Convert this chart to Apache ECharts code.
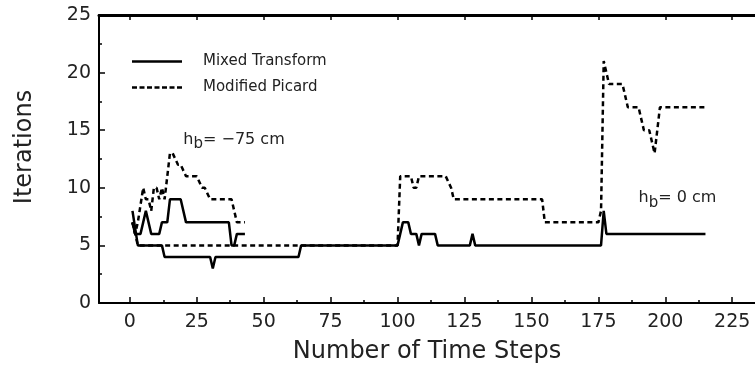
<!DOCTYPE html>
<html>
<head>
<meta charset="utf-8">
<script src="https://cdn.jsdelivr.net/npm/echarts@6/dist/echarts.min.js"></script>
<style>html,body{margin:0;padding:0;background:#fff}#c{width:755px;height:369px}</style>
</head>
<body>
<div id="c"></div>
<script>
// ---- data ----
const xTicks = [0, 25, 50, 75, 100, 125, 150, 175, 200, 225];
const xMinorTicks = [12.5, 37.5, 62.5, 87.5, 112.5, 137.5, 162.5, 187.5, 212.5];
const seriesNames = ['Mixed Transform', 'Modified Picard'];

// h_b = -75 cm run
const mixed75 = [[1,7],[2,6],[4,6],[5,7],[6,8],[7,7],[8,6],[11,6],[12,7],[14,7],[15,9],[19,9],[21,7],[37,7],[38,5],[39,5],[40,6],[43,6]];
const picard75 = [[1,7],[2,6],[3,7],[5,10],[6,9],[7,9],[8,8],[9,10],[10,10],[11,9],[12,10],[13,9],[15,13],[16,13],[18,12],[19,12],[21,11],[25,11],[27,10],[28,10],[30,9],[38,9],[39,8],[40,7],[43,7]];

// h_b = 0 cm run
const mixed0 = [[1,8],[3,5],[12,5],[13,4],[30,4],[31,3],[32,4],[63,4],[64,5],[100,5],[101,6],[102,7],[104,7],[105,6],[107,6],[108,5],[109,6],[114,6],[115,5],[127,5],[128,6],[129,5],[176,5],[177,8],[178,6],[215,6]];
const picard0 = [[1,7],[2,6],[3,5],[100,5],[101,11],[105,11],[106,10],[107,10],[108,11],[118,11],[120,10],[121,9],[154,9],[155,7],[175,7],[176,8],[177,21],[178,20],[179,19],[184,19],[185,18],[186,17],[190,17],[192,15],[194,15],[195,14],[196,13],[197,15],[198,17],[215,17]];

const annotations = [
  { coord: [20, 14.2], text: '= \u221275 cm' },
  { coord: [190, 9.1], text: '= 0 cm' }
];

// ---- chart ----
const FONT = 'DejaVu Sans';
const INK = '#222';
const XMIN = -11.5, XMAX = 233.5;

const chart = echarts.init(document.getElementById('c'), null, { renderer: 'canvas' });

const solid = { color: '#000', width: 2.5, type: 'solid' };
const dashed = { color: '#000', width: 2.5, type: [5, 3.5] };

const solidIcon = 'path://M0,0h50v2.5h-50z';
const dashedIcon = 'path://M0,0h5v2.5h-5z M7.5,0h5v2.5h-5z M15,0h5v2.5h-5z M22.5,0h5v2.5h-5z M30,0h5v2.5h-5z M37.5,0h5v2.5h-5z M45,0h5v2.5h-5z';

function lineSeries(name, data, style, extra) {
  return Object.assign({
    type: 'line', name: name, data: data, xAxisIndex: 0, yAxisIndex: 0,
    symbol: 'none', showSymbol: false, lineStyle: style, itemStyle: { color: '#000' },
    z: 3, silent: true
  }, extra || {});
}

const richLabel = {
  h: { fontSize: 16, fontFamily: FONT, color: INK },
  b: { fontSize: 15, fontFamily: FONT, color: INK, padding: [10, 0, 0, 0] },
  t: { fontSize: 16, fontFamily: FONT, color: INK }
};

const option = {
  animation: false,
  backgroundColor: '#fff',
  textStyle: { fontFamily: FONT, color: INK },
  grid: { left: 99, right: 0, top: 15, bottom: 64 },
  legend: {
    orient: 'vertical', left: 127, top: 49,
    itemWidth: 50, itemHeight: 3, itemGap: 11,
    data: [
      { name: seriesNames[0], icon: solidIcon },
      { name: seriesNames[1], icon: dashedIcon }
    ],
    itemStyle: { color: '#000', borderWidth: 0 },
    lineStyle: { width: 0 },
    textStyle: { fontSize: 15, fontFamily: FONT, color: INK, padding: [0, 0, 0, 16] },
    selectedMode: false
  },
  xAxis: [
    {
      type: 'value', min: XMIN, max: XMAX, position: 'bottom',
      axisLine: { show: true, onZero: false, lineStyle: { color: '#000', width: 2 } },
      axisTick: { show: true, inside: true, length: 6, customValues: xTicks, lineStyle: { color: '#000', width: 1.5 } },
      axisLabel: { customValues: xTicks, fontSize: 19, margin: 10, color: INK, fontFamily: FONT },
      splitLine: { show: false },
      name: 'Number of Time Steps', nameLocation: 'middle', nameGap: 37,
      nameTextStyle: { fontSize: 24, fontFamily: FONT, color: INK }
    },
    {
      type: 'value', min: XMIN, max: XMAX, position: 'bottom',
      axisLine: { show: false },
      axisTick: { show: true, inside: true, length: 3, customValues: xMinorTicks, lineStyle: { color: '#000', width: 1.5 } },
      axisLabel: { show: false }, splitLine: { show: false }
    },
    {
      type: 'value', min: XMIN, max: XMAX, position: 'top',
      axisLine: { show: true, onZero: false, lineStyle: { color: '#000', width: 3 } },
      axisTick: { show: true, inside: true, length: 5, customValues: xTicks, lineStyle: { color: '#000', width: 1.5 } },
      axisLabel: { show: false }, splitLine: { show: false }
    }
  ],
  yAxis: {
    type: 'value', min: 0, max: 25, interval: 5,
    axisLine: { show: true, onZero: false, lineStyle: { color: '#000', width: 2 } },
    axisTick: { show: true, inside: true, length: 6, lineStyle: { color: '#000', width: 1.5 } },
    minorTick: { show: true, splitNumber: 2, length: 3, lineStyle: { color: '#000', width: 1.5 } },
    axisLabel: { fontSize: 19, margin: 8, color: INK, fontFamily: FONT },
    splitLine: { show: false }, minorSplitLine: { show: false },
    name: 'Iterations', nameLocation: 'middle', nameGap: 62, nameRotate: 90,
    nameTextStyle: { fontSize: 24, fontFamily: FONT, color: INK, padding: [0, 0, 0, 24] }
  },
  series: [
    lineSeries(seriesNames[0], mixed75, solid),
    lineSeries(seriesNames[1], picard75, dashed, {
      markPoint: {
        silent: true, symbol: 'circle', symbolSize: 0,
        label: {
          show: true, position: 'right', distance: 0,
          formatter: function (p) { return '{h|h}{b|b}{t|' + p.data.value + '}'; },
          rich: richLabel
        },
        data: annotations.map(a => ({ coord: a.coord, value: a.text }))
      }
    }),
    lineSeries(seriesNames[0], mixed0, solid),
    lineSeries(seriesNames[1], picard0, dashed)
  ]
};
chart.setOption(option);
</script>
</body>
</html>
